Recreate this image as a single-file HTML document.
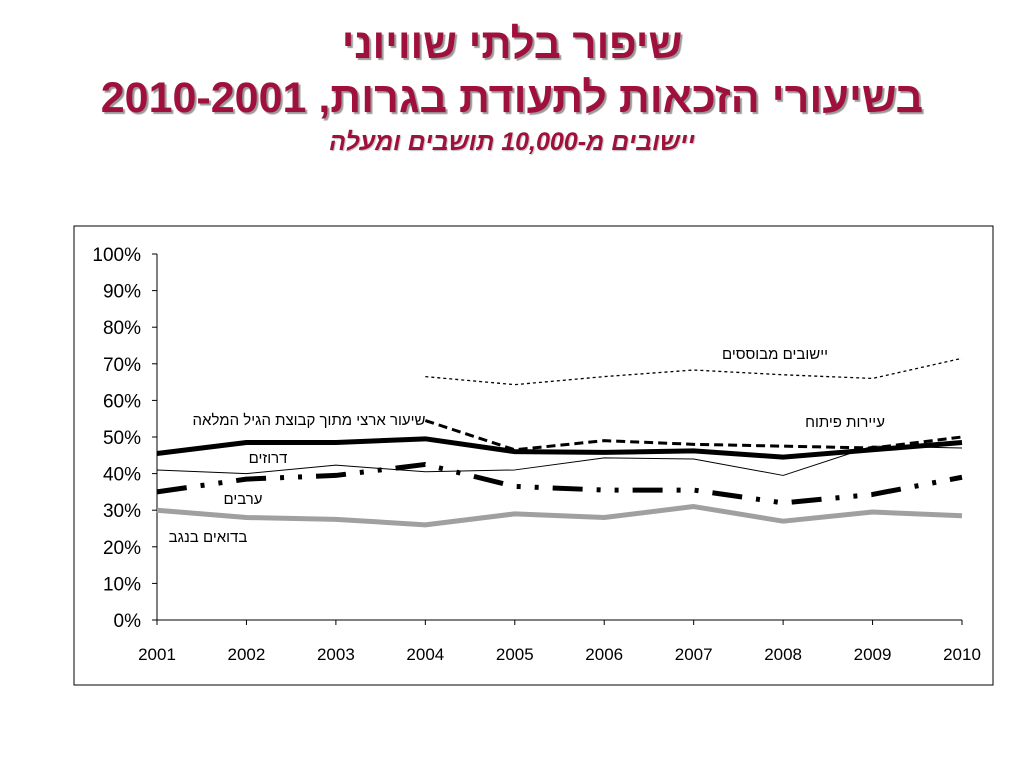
<!DOCTYPE html>
<html><head><meta charset="utf-8"><style>
body{margin:0;width:1024px;height:768px;background:#fff;overflow:hidden;font-family:"Liberation Sans","Noto Sans CJK SC",sans-serif}
.t{position:absolute;left:0;width:1024px;text-align:center;color:#a0103c;font-weight:bold;direction:rtl;text-shadow:2px 2px 1px #999}
</style></head><body>
<div class="t" style="top:20px;font-size:42px">שיפור בלתי שוויוני</div>
<div class="t" style="top:74px;font-size:43px">בשיעורי הזכאות לתעודת בגרות, 2010-2001</div>
<div class="t" style="top:128px;font-size:25px;font-style:italic;text-shadow:1px 1px 1px #bbb">יישובים מ-10,000 תושבים ומעלה</div>
<svg id="c" width="1024" height="768" style="position:absolute;left:0;top:0">
<rect x="74" y="226" width="919" height="459" fill="none" stroke="#000" stroke-width="1"/>
</svg>
<script>
const years=["2001","2002","2003","2004","2005","2006","2007","2008","2009","2010"];
const yTicks=[0,10,20,30,40,50,60,70,80,90,100];
const national=[45.5,48.5,48.5,49.5,46,45.8,46.2,44.5,46.5,48.5];
const established=[null,null,null,66.5,64.3,66.5,68.3,67,66,71.5];
const devTowns=[null,null,null,54.5,46.5,49,48,47.5,47,50];
const druze=[41,40,42.3,40.5,41,44.3,44,39.5,47.5,47];
const arabs=[35,38.5,39.5,42.5,36.5,35.5,35.5,32,34.3,39];
const bedouin=[30,28,27.5,26,29,28,31,27,29.5,28.5];
const NS="http://www.w3.org/2000/svg",svg=document.getElementById('c');
const x0=157,x1=962,yb=620,yt=254;
const X=i=>x0+i*(x1-x0)/(years.length-1);
const Y=v=>yb-v*(yb-yt)/100;
function mk(t,a,p){const e=document.createElementNS(NS,t);for(const k in a)e.setAttribute(k,a[k]);(p||svg).appendChild(e);return e;}
const ax=mk('line',{x1:x0,y1:yt,x2:x0,y2:yb,stroke:'#000'});


const bx=mk('line',{x1:x0,y1:yb,x2:x1,y2:yb,stroke:'#000'});


yTicks.forEach(v=>{mk('line',{x1:x0-5,y1:Y(v),x2:x0,y2:Y(v),stroke:'#000'});
const t=mk('text',{x:x0-16,y:Y(v)+7,'text-anchor':'end','font-size':19});t.textContent=v+'%';

});
years.forEach((y,i)=>{mk('line',{x1:X(i),y1:yb,x2:X(i),y2:yb+5,stroke:'#000'});
const t=mk('text',{x:X(i),y:yb+40,'text-anchor':'middle','font-size':17});t.textContent=y;

});
function series(d,name,st){let p='';d.forEach((v,i)=>{if(v==null)return;p+=(p?'L':'M')+X(i)+','+Y(v);});
const e=mk('path',Object.assign({d:p,fill:'none','stroke-linejoin':'round'},st));

}
series(druze,'line-druze',{stroke:'#000','stroke-width':1});
series(established,'line-established',{stroke:'#000','stroke-width':1.3,'stroke-dasharray':'3,3'});
series(bedouin,'line-bedouin',{stroke:'#a0a0a0','stroke-width':5});
series(arabs,'line-arabs',{stroke:'#000','stroke-width':5,'stroke-dasharray':'30,14,4,14,4,14'});
series(devTowns,'line-development-towns',{stroke:'#000','stroke-width':3,'stroke-dasharray':'9,5'});
series(national,'line-national',{stroke:'#000','stroke-width':5});
const labels=[["יישובים מבוססים",775,359,'label-established'],["שיעור ארצי מתוך קבוצת הגיל המלאה",309,425,'label-national'],["עיירות פיתוח",845,427,'label-development-towns'],["דרוזים",268,463,'label-druze'],["ערבים",243,504,'label-arabs'],["בדואים בנגב",208,542,'label-bedouin']];
labels.forEach(l=>{const t=mk('text',{x:l[1],y:l[2],'text-anchor':'middle','font-size':15,direction:'rtl','unicode-bidi':'embed'});t.textContent=l[0];

});
</script>
</body></html>
